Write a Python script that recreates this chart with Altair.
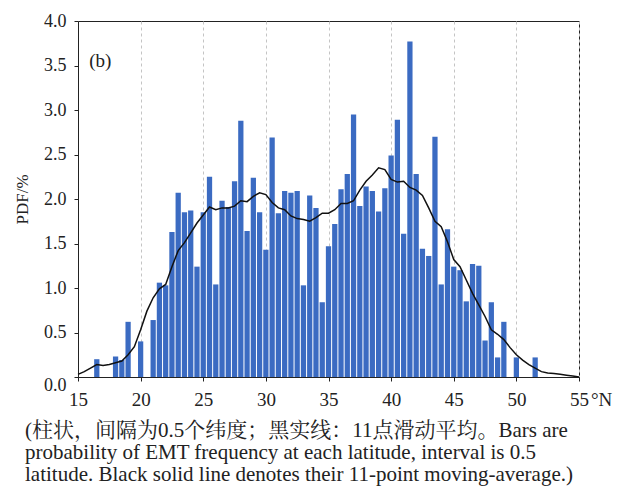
import altair as alt
import pandas as pd

# Bars: latitude (bin centre, deg N) and probability (%)
bar_lat = [16.5, 18.0, 18.5, 19.0, 20.0, 21.0, 21.5, 22.0, 22.5, 23.0,
           23.5, 24.0, 24.5, 25.0, 25.5, 26.0, 26.5, 27.0, 27.5, 28.0,
           28.5, 29.0, 29.5, 30.0, 30.5, 31.0, 31.5, 32.0, 32.5, 33.0,
           33.5, 34.0, 34.5, 35.0, 35.5, 36.0, 36.5, 37.0, 37.5, 38.0,
           38.5, 39.0, 39.5, 40.0, 40.5, 41.0, 41.5, 42.0, 42.5, 43.0,
           43.5, 44.0, 44.5, 45.0, 45.5, 46.0, 46.5, 47.0, 47.5, 48.0,
           48.5, 49.0, 50.0, 51.5]
bar_pdf = [0.20, 0.23, 0.19, 0.62, 0.40, 0.64, 1.06, 1.03, 1.63, 2.07,
           1.85, 1.87, 1.24, 1.85, 2.25, 1.04, 1.98, 1.91, 2.20, 2.88,
           1.64, 2.24, 1.85, 1.43, 2.69, 1.84, 2.09, 2.07, 2.09, 1.03,
           2.04, 1.90, 0.84, 1.47, 1.72, 2.11, 2.28, 2.95, 1.92, 2.14,
           2.09, 1.86, 2.12, 2.49, 2.89, 1.61, 3.77, 2.28, 1.44, 1.36,
           2.70, 1.04, 1.66, 1.24, 1.20, 0.85, 1.27, 1.25, 0.41, 0.84,
           0.22, 0.62, 0.22, 0.22]

# Black line: 11-point moving average
line_lat = [15.0, 15.5, 16.0, 16.5, 17.0, 17.5, 18.0, 18.5, 19.0, 19.5,
            20.0, 20.5, 21.0, 21.5, 22.0, 22.5, 23.0, 23.5, 24.0, 24.5,
            25.0, 25.5, 26.0, 26.5, 27.0, 27.5, 28.0, 28.5, 29.0, 29.5,
            30.0, 30.5, 31.0, 31.5, 32.0, 32.5, 33.0, 33.5, 34.0, 34.5,
            35.0, 35.5, 36.0, 36.5, 37.0, 37.5, 38.0, 38.5, 39.0, 39.5,
            40.0, 40.5, 41.0, 41.5, 42.0, 42.5, 43.0, 43.5, 44.0, 44.5,
            45.0, 45.5, 46.0, 46.5, 47.0, 47.5, 48.0, 48.5, 49.0, 49.5,
            50.0, 50.5, 51.0, 51.5, 52.0, 52.5, 53.0, 53.5, 54.0, 54.5,
            55.0]
line_pdf = [0.03, 0.06, 0.10, 0.14, 0.13, 0.14, 0.16, 0.18, 0.25, 0.34,
            0.53, 0.74, 0.89, 0.99, 1.04, 1.24, 1.42, 1.51, 1.62, 1.73,
            1.82, 1.91, 1.88, 1.90, 1.90, 1.92, 1.98, 1.97, 2.03, 2.07,
            2.05, 1.96, 1.90, 1.88, 1.81, 1.78, 1.77, 1.75, 1.79, 1.84,
            1.84, 1.88, 1.95, 1.95, 1.98, 2.10, 2.20, 2.27, 2.35, 2.33,
            2.22, 2.19, 2.20, 2.13, 2.10, 2.04, 1.90, 1.75, 1.69, 1.52,
            1.32, 1.24, 1.09, 0.94, 0.81, 0.68, 0.53, 0.48, 0.42, 0.33,
            0.25, 0.19, 0.14, 0.10, 0.06, 0.045, 0.04, 0.03, 0.02, 0.01,
            0.0]

x_ticks = [15, 20, 25, 30, 35, 40, 45, 50, 55]
y_ticks = [0.0, 0.5, 1.0, 1.5, 2.0, 2.5, 3.0, 3.5, 4.0]

caption = [
    "(柱状，间隔为0.5个纬度；黑实线：11点滑动平均。Bars are",
    "probability of EMT frequency at each latitude, interval is 0.5",
    "latitude. Black solid line denotes their 11-point moving-average.)",
]

FONT = "Times New Roman, Liberation Serif, serif"
CAPFONT = "Times New Roman, Liberation Serif, Noto Serif CJK SC, Noto Sans CJK SC, serif"

bars_df = pd.DataFrame({"lat": bar_lat, "pdf": bar_pdf})
line_df = pd.DataFrame({"lat": line_lat, "pdf": line_pdf})

xscale = alt.Scale(domain=[15, 55], nice=False, zero=False)
yscale = alt.Scale(domain=[0, 4], nice=False)

xaxis = alt.Axis(values=x_ticks, title=None, grid=True, gridDash=[3, 3],
                 gridColor="#c4c4c4", gridWidth=1, labelFont=FONT,
                 labelFontSize=19, labelColor="#222222", labelPadding=9,
                 tickSize=4, tickColor="#222222", domainColor="#222222",
                 labelFlush=False, format="d")
yaxis = alt.Axis(values=y_ticks, title="PDF/%", grid=False, format=".1f",
                 labelFont=FONT, labelFontSize=18, labelColor="#222222",
                 labelPadding=8,
                 labelOffset={"condition": {"test": "datum.value == 0", "value": 8}, "value": 0},
                 titleFont=FONT, titleFontSize=17, titleFontWeight="normal",
                 titleColor="#222222", titlePadding=12, tickSize=4,
                 tickColor="#222222", domainColor="#222222", labelFlush=False)

bars = alt.Chart(bars_df).transform_calculate(
    x0="datum.lat - 0.21", x1="datum.lat + 0.21"
).mark_bar(color="#3b6bc2").encode(
    x=alt.X("x0:Q", scale=xscale, axis=xaxis),
    x2="x1:Q",
    y=alt.Y("pdf:Q", scale=yscale, axis=yaxis),
    y2=alt.datum(0),
)

line = alt.Chart(line_df).mark_line(color="#111111", strokeWidth=1.5).encode(
    x=alt.X("lat:Q", scale=xscale),
    y=alt.Y("pdf:Q", scale=yscale),
)

panel = alt.Chart(pd.DataFrame({"lat": [15.9], "pdf": [3.55], "t": ["(b)"]})).mark_text(
    align="left", baseline="middle", font=FONT, fontSize=19, color="#222222"
).encode(x=alt.X("lat:Q", scale=xscale), y=alt.Y("pdf:Q", scale=yscale), text="t:N")

degn = alt.Chart(pd.DataFrame({"lat": [55], "t": ["°N"]})).mark_text(
    align="left", baseline="middle", font=FONT, fontSize=19, color="#222222", dx=12
).encode(x=alt.X("lat:Q", scale=xscale), y=alt.value(356 + 23), text="t:N")

chart = alt.layer(bars, line, panel, degn).properties(
    width=501, height=356,
    autosize=alt.AutoSizeParams(type="none"),
    padding={"left": 78, "top": 21, "right": 43, "bottom": 109},
    background="white",
    title=alt.TitleParams(text=caption, orient="bottom", anchor="start",
                          frame="group", font=CAPFONT, fontSize=21,
                          fontWeight="normal", lineHeight=22, dx=-53,
                          offset=10, color="#222222"),
).configure_view(stroke="#222222", strokeWidth=1)

chart.save("out.html", embed_options={"renderer": "svg", "actions": False})
